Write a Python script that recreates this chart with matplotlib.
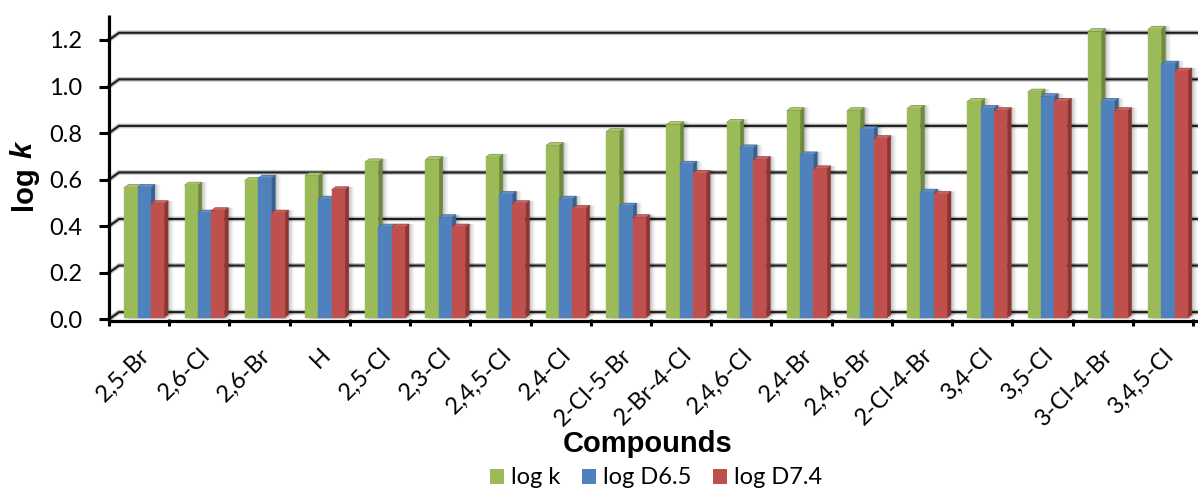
import numpy as np
import matplotlib
matplotlib.use("Agg")
import matplotlib.pyplot as plt
from matplotlib.patches import Polygon, Rectangle, Patch

# ---- data -------------------------------------------------------------
compounds = ["2,5-Br", "2,6-Cl", "2,6-Br", "H", "2,5-Cl", "2,3-Cl", "2,4,5-Cl",
             "2,4-Cl", "2-Cl-5-Br", "2-Br-4-Cl", "2,4,6-Cl", "2,4-Br", "2,4,6-Br",
             "2-Cl-4-Br", "3,4-Cl", "3,5-Cl", "3-Cl-4-Br", "3,4,5-Cl"]
log_k = [0.56, 0.57, 0.59, 0.61, 0.67, 0.68, 0.69, 0.74, 0.80, 0.83, 0.84,
         0.89, 0.89, 0.90, 0.93, 0.97, 1.23, 1.24]
log_d65 = [0.56, 0.45, 0.60, 0.51, 0.39, 0.43, 0.53, 0.51, 0.48, 0.66, 0.73,
           0.70, 0.81, 0.54, 0.90, 0.95, 0.93, 1.09]
log_d74 = [0.49, 0.46, 0.45, 0.55, 0.39, 0.39, 0.49, 0.47, 0.43, 0.62, 0.68,
           0.64, 0.77, 0.53, 0.89, 0.93, 0.89, 1.06]
series_names = ["log k", "log D6.5", "log D7.4"]
y_ticks = [0.0, 0.2, 0.4, 0.6, 0.8, 1.0, 1.2]

# ---- styling ----------------------------------------------------------
front_cols = ["#9BBB59", "#4F81BD", "#C0504D"]
side_cols = ["#6F8A3C", "#37608F", "#8E3532"]
top_cols = ["#A9C66C", "#6390C6", "#C9625F"]
label_font = "Lato"
title_font = "Liberation Sans"
label_size = 17

W, H, DPI = 1198, 491, 100
fig = plt.figure(figsize=(W / DPI, H / DPI), dpi=DPI)
fig.patch.set_facecolor("white")

# front plane of the 3-D box, in pixels
left_px, right_px = 109, 1193
zero_px, top_px = 319.3, 40.0
n = len(compounds)
ax = fig.add_axes([left_px / W, (H - zero_px) / H,
                   (right_px - left_px) / W, (zero_px - top_px) / H])
ax.set_xlim(0, n)
ax.set_ylim(0, 1.2)
ax.patch.set_visible(False)
for s in ax.spines.values():
    s.set_visible(False)

px_x = (right_px - left_px) / n          # pixels per category
px_y = (zero_px - top_px) / 1.2          # pixels per value unit

# depth of the box (back wall offset) and of the columns
DXW, DYW = 10 / px_x, 7.2 / px_y
DXB, DYB = 4 / px_x, 3 / px_y
BASE = 1.5 / px_y
X0, BW = 0.255, 0.22

# back-wall gridlines and side-wall diagonals
for v in y_ticks:
    xs = [0, DXW, n + 0.3]
    ys = [v, v + DYW, v + DYW]
    ax.plot(xs, ys, color="#a8a8a8", lw=3.4, alpha=0.7, zorder=1,
            clip_on=False, solid_joinstyle="miter")
    ax.plot(xs, ys, color="#1e1e1e", lw=1.5, zorder=1.1, clip_on=False,
            solid_joinstyle="miter")

# columns, drawn left to right so the next front face hides the previous side
series = [log_k, log_d65, log_d74]
sh = 2.5 / px_x
for i in range(n):
    for j, vals in enumerate(series):
        v = vals[i]
        x0 = i + X0 + j * BW
        x1 = x0 + BW
        yb, yt = BASE, BASE + v
        # soft drop shadow
        for k, a in enumerate([0.10, 0.07, 0.05]):
            d = sh * (k + 1) * 0.7
            ax.add_patch(Polygon([(x0 + d, yb - 1 / px_y), (x1 + d, yb - 1 / px_y),
                                  (x1 + DXB + d, yb + DYB), (x1 + DXB + d, yt + DYB),
                                  (x0 + DXB + d, yt + DYB), (x0 + d, yt)],
                                 closed=True, fc="#000000", ec="none", alpha=a,
                                 zorder=2, clip_on=False))
        side = Polygon([(x1, yb), (x1 + DXB, yb + DYB), (x1 + DXB, yt + DYB), (x1, yt)],
                       closed=True, fc=side_cols[j], ec=side_cols[j], lw=0.3,
                       zorder=3, clip_on=False)
        top = Polygon([(x0, yt), (x1, yt), (x1 + DXB, yt + DYB), (x0 + DXB, yt + DYB)],
                      closed=True, fc=top_cols[j], ec=side_cols[j], lw=0.4,
                      zorder=3, clip_on=False)
        front = Rectangle((x0, yb), BW, v, fc=front_cols[j], ec=front_cols[j],
                          lw=0.3, zorder=3, clip_on=False)
        ax.add_patch(side)
        ax.add_patch(top)
        ax.add_patch(front)

# axis lines
ax.plot([0, 0], [-1.5 / px_y, 1.306], color="black", lw=2.3, zorder=5,
        clip_on=False, solid_capstyle="butt")
ax.plot([0, n + 0.1], [-1.5 / px_y, -1.5 / px_y], color="black", lw=2.3,
        zorder=5, clip_on=False, solid_capstyle="butt")

# ticks
ax.set_yticks(y_ticks, [f"{v:.1f}" for v in y_ticks])
ax.tick_params(axis="y", length=7.2, width=2.2, color="black", pad=12,
               labelsize=label_size, direction="out")
ax.set_xticks(np.arange(n) + 0.5, compounds)
ax.set_xticks(np.arange(n + 1), minor=True)
ax.tick_params(axis="x", which="major", length=0, pad=18, labelsize=label_size)
ax.tick_params(axis="x", which="minor", length=5.2, width=2.2, color="black",
               direction="out")
for lab in ax.get_xticklabels():
    lab.set_rotation(45)
    lab.set_ha("right")
    lab.set_va("top")
    lab.set_rotation_mode("anchor")
    lab.set_family(label_font)
for lab in ax.get_yticklabels():
    lab.set_family(label_font)
    lab.set_va("center_baseline")

# axis titles
fig.text(648 / W, 1 - 444 / H, "Compounds", ha="center", va="center",
         fontsize=21, weight="bold", family=title_font)

t1 = fig.text(32 / W, 1 - 210 / H, "log", rotation=90, rotation_mode="anchor",
              ha="left", va="baseline", fontsize=21, weight="bold",
              family=title_font)
fig.canvas.draw()
r = fig.canvas.get_renderer()
ext = t1.get_window_extent(r)
gap = 0.28 * 21 * DPI / 72
fig.text(32 / W, (ext.y1 + gap) / H, "k", rotation=90, rotation_mode="anchor",
         ha="left", va="baseline", fontsize=21, weight="bold", style="italic",
         family=title_font)

# legend
handles = [Patch(fc=c, ec="none", label=nm) for c, nm in zip(front_cols, series_names)]
fig.legend(handles=handles, loc="center", bbox_to_anchor=(656 / W, 1 - 478 / H),
           ncol=3, frameon=False, prop={"family": label_font, "size": label_size},
           handlelength=0.6, handleheight=0.6, handletextpad=0.3,
           columnspacing=0.9, borderaxespad=0, borderpad=0)

fig.savefig("out.png", dpi=DPI, facecolor="white")
